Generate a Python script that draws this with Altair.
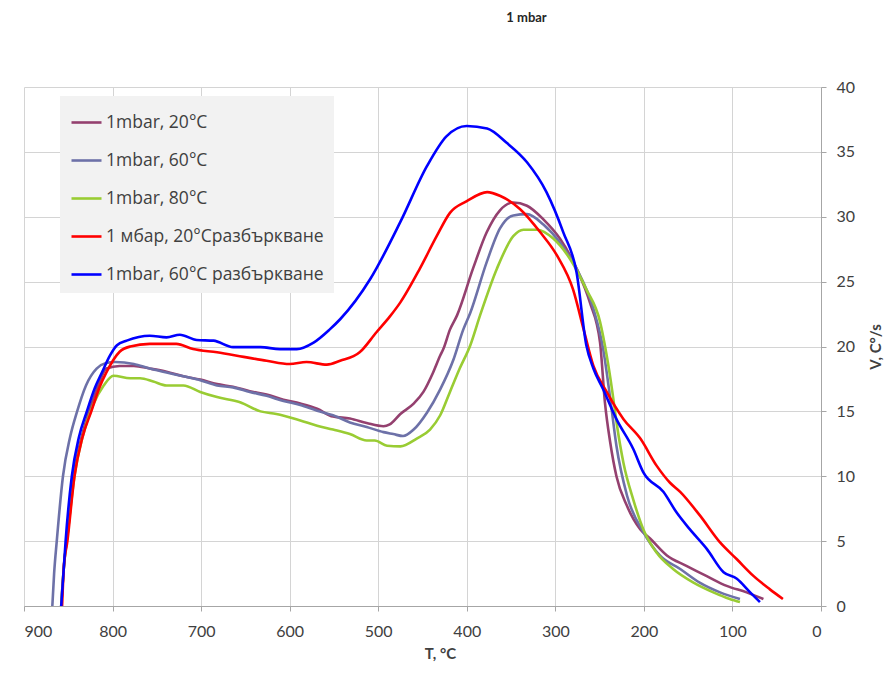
import altair as alt
import pandas as pd

series_names = ["1mbar, 20°C", "1mbar, 60°C", "1mbar, 80°C",
                "1 мбар, 20°Сразбъркване", "1mbar, 60°C разбъркване"]
series_colors = ["#94406f", "#6d71a8", "#99cc33", "#ff0000", "#0000ff"]

T_20 = [858, 855, 850, 844, 835, 824, 815, 807, 792, 776, 758, 739, 720, 701, 682, 664, 645, 626, 607, 588,
        569, 551, 532, 513, 494, 487, 475, 460, 449, 438, 430, 426.5, 419, 411, 393, 377.5, 362.5, 347.5, 332,
        313.5, 294.7, 276, 261, 249.5, 244, 238, 231, 219, 204, 193, 174, 152, 129, 106.5, 84, 65]
V_20 = [0, 3, 6, 10, 13, 15.5, 17.2, 18.3, 18.5, 18.5, 18.3, 18.05, 17.7, 17.45, 17.1, 16.9, 16.55, 16.3, 15.9, 15.6,
        15.2, 14.6, 14.45, 14.1, 13.85, 14.0, 14.8, 15.6, 16.5, 18.0, 19.3, 19.8, 21.3, 22.4, 26.0, 28.8, 30.5, 31.1, 30.85,
        29.8, 28.3, 26.0, 23.4, 20.3, 15.7, 12.6, 10.0, 7.7, 5.9, 5.2, 3.9, 3.1, 2.3, 1.55, 1.05, 0.54]

T_60 = [868, 866, 863, 856, 848, 840, 830, 818, 808, 797, 776, 758, 739, 720, 701, 682, 664, 645, 626, 607,
        588, 569, 551, 532, 513, 494, 483, 472, 460, 445, 430, 415, 404, 396, 377.5, 362.5, 347.5, 332, 313.5,
        294.7, 276, 257, 246, 238, 231, 219, 200.6, 182, 159, 137, 114, 91.5]
V_60 = [0, 2.5, 5, 10, 13, 15, 17, 18.3, 18.7, 18.8, 18.65, 18.3, 18.0, 17.7, 17.4, 17.0, 16.85, 16.5, 16.2, 15.8,
        15.5, 15.05, 14.7, 14.15, 13.8, 13.4, 13.25, 13.1, 13.6, 14.9, 16.7, 19.0, 21.3, 22.6, 26.5, 29.1, 30.1, 30.2, 29.4,
        28.0, 26.0, 22.9, 19.8, 16.0, 12.35, 8.5, 5.7, 3.9, 2.85, 1.8, 1.05, 0.54]

T_80 = [858, 855, 850, 843, 834, 822, 810, 799, 780, 769, 754, 739, 720, 701, 682, 656, 633, 615, 588, 569,
        551, 532, 513, 504, 490, 475, 456.5, 441.5, 430, 419, 408, 396, 385, 366, 347.5, 336, 321, 302, 283,
        265, 249.5, 242, 236, 231, 223, 212, 200.6, 185.5, 167, 144, 121.6, 103, 91.5]
V_80 = [0, 3, 6, 10, 13, 15.5, 17, 17.75, 17.55, 17.55, 17.3, 17.0, 17.0, 16.5, 16.1, 15.7, 15.0, 14.8, 14.3, 13.9,
        13.6, 13.25, 12.75, 12.75, 12.35, 12.3, 12.9, 13.6, 14.7, 16.5, 18.3, 20.1, 22.4, 26.0, 28.5, 29.0, 29.0, 28.3, 26.7,
        24.4, 21.9, 19.3, 16.7, 14.2, 11.0, 8.2, 5.9, 4.1, 2.85, 1.8, 1.05, 0.54, 0.3]

T_20s = [857, 855, 851, 843, 834, 824, 815, 807, 792, 780, 758, 728, 709, 682, 652, 626, 600, 581, 558, 543,
         521, 502, 487, 475, 453, 434, 419, 400, 377, 362, 340, 317, 298, 280, 268, 257, 242, 223, 204, 185.5,
         170.5, 159, 137, 114, 95, 76, 58, 43]
V_20s = [0, 3, 5, 10, 13, 15, 16.8, 18.0, 19.6, 20.0, 20.2, 20.2, 19.8, 19.55, 19.2, 18.9, 18.65, 18.8, 18.6, 18.9,
         19.55, 21.1, 22.3, 23.4, 26.0, 28.5, 30.3, 31.2, 31.9, 31.6, 30.6, 28.8, 27.0, 24.4, 21.3, 18.5, 16.5, 14.4, 12.9, 10.8,
         9.5, 8.8, 7.0, 4.9, 3.6, 2.3, 1.3, 0.54]

T_60s = [858, 855, 853, 846, 838, 829, 820, 812, 803, 795, 784, 758, 739, 724, 705, 686, 664, 633, 611, 592,
         573, 555, 543, 509, 475, 445, 423, 400, 377, 355, 332, 310, 291, 276, 265, 257, 246, 231, 212, 200.6,
         178, 163, 148, 129, 110, 95, 80, 69]
V_60s = [0, 3, 5, 10, 13, 15, 16.8, 18, 19.3, 20.1, 20.45, 20.83, 20.7, 20.9, 20.5, 20.45, 19.95, 19.95, 19.8, 19.8,
         20.3, 21.3, 22.1, 25.2, 29.6, 33.9, 36.2, 37.0, 36.8, 35.7, 34.2, 31.9, 28.8, 25.7, 20.1, 18.3, 16.7, 14.4, 12.1, 10.3,
         8.8, 7.2, 5.9, 4.4, 2.6, 2.1, 1.05, 0.3]

x_ticks = list(range(0, 901, 100))
y_ticks = list(range(0, 41, 5))

rows = []
for name, Ts, Vs in zip(series_names, [T_20, T_60, T_80, T_20s, T_60s], [V_20, V_60, V_80, V_20s, V_60s]):
    for i, (t, v) in enumerate(zip(Ts, Vs)):
        rows.append({"series": name, "T": t, "V": v, "i": i})
df = pd.DataFrame(rows)

FONT = "Lato"
LFONT = "Open Sans"

chart = alt.Chart(df).mark_line(strokeWidth=2.6, interpolate="monotone", clip=True).encode(
    x=alt.X("T:Q",
            scale=alt.Scale(domain=[0, 900], reverse=True, nice=False),
            axis=alt.Axis(values=x_ticks, title="T, °C", labelFont=FONT, labelFontSize=16,
                          labelColor="#404040", tickColor="#a6a6a6", domainColor="#a6a6a6",
                          gridColor="#d4d4d4", tickSize=5, labelPadding=12,
                          titleFont=FONT, titleFontSize=15, titleFontWeight="bold",
                          titleColor="#404040", titlePadding=7, titleX=416)),
    y=alt.Y("V:Q",
            scale=alt.Scale(domain=[0, 40], nice=False),
            axis=alt.Axis(orient="right", values=y_ticks, title="V, C°/s", labelFont=FONT,
                          labelFontSize=16, labelColor="#404040", tickColor="#a6a6a6",
                          domainColor="#a6a6a6", gridColor="#d4d4d4", tickSize=5,
                          labelPadding=10, titleFont=FONT, titleFontSize=15,
                          titleFontWeight="bold", titleColor="#404040", titleAngle=270,
                          titlePadding=29)),
    color=alt.Color("series:N",
                    scale=alt.Scale(domain=series_names, range=series_colors),
                    legend=alt.Legend(orient="none", legendX=36, legendY=9, title=None,
                                      fillColor="#f2f2f2", padding=10, symbolType="stroke",
                                      symbolStrokeWidth=2.6, symbolSize=900, labelFont=LFONT,
                                      labelFontSize=17.5, labelColor="#404040", labelOffset=3,
                                      rowPadding=13, labelLimit=400)),
    order="i:Q",
).properties(
    width=797,
    height=519,
    title=alt.TitleParams("1 mbar", font=FONT, fontSize=13, fontWeight="bold",
                          color="#262626", dx=104, offset=54),
    autosize=alt.AutoSizeParams(type="none"),
    padding={"left": 16, "top": 79, "right": 63, "bottom": 58},
).configure_view(stroke=None)

chart.save("out.html", embed_options={"renderer": "svg", "actions": False})
